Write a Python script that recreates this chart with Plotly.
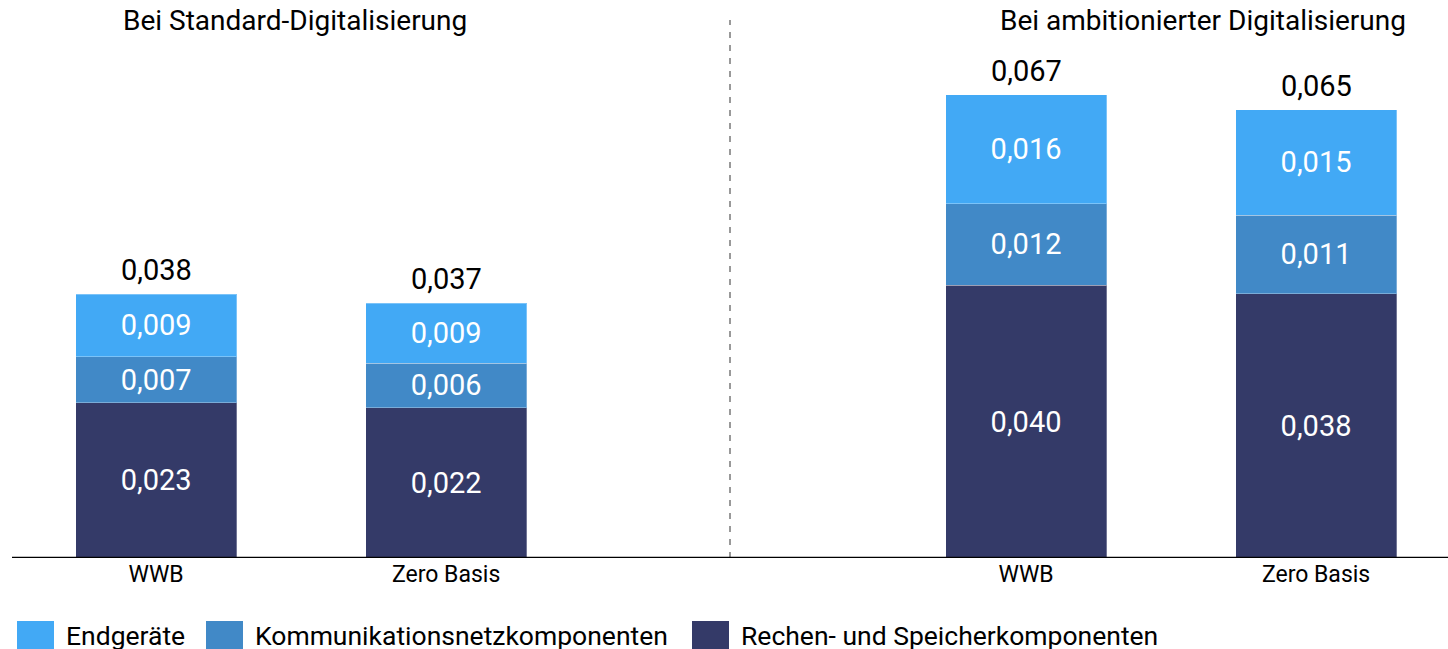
import plotly.graph_objects as go

# Bar slots on a numeric x axis (slot 2 is left empty for the divider)
categories = ["WWB", "Zero Basis", "WWB", "Zero Basis"]
slots = [0, 1, 3, 4]

rechen = [0.02252, 0.02177, 0.03954, 0.03833]
kommunikation = [0.00667, 0.00648, 0.01180, 0.01135]
endgeraete = [0.00903, 0.00870, 0.01580, 0.01532]

series_names = ["Rechen- und Speicherkomponenten", "Kommunikationsnetzkomponenten", "Endgeräte"]
series_values = [rechen, kommunikation, endgeraete]
series_colors = ["#343A68", "#4189C7", "#42A9F5"]

group_titles = ["Bei Standard-Digitalisierung", "Bei ambitionierter Digitalisierung"]
title_slots = [0.479, 3.61]

FONT = "Roboto"


def de(v):
    return f"{v:.3f}".replace(".", ",")


totals = [sum(t) for t in zip(*series_values)]

fig = go.Figure()
for name, vals, col in zip(series_names, series_values, series_colors):
    fig.add_trace(go.Bar(
        x=slots, y=vals, name=name, width=0.555,
        marker=dict(color=col, line=dict(color="rgba(255,255,255,0.3)", width=1)),
        text=[de(v) for v in vals], textposition="inside",
        insidetextanchor="middle", textangle=0,
        textfont=dict(color="white", size=29, family=FONT),
        showlegend=False, hoverinfo="skip",
    ))

# totals above each stack
for s, t in zip(slots, totals):
    fig.add_annotation(x=s, y=t, text=de(t), showarrow=False, yanchor="bottom",
                       yshift=5, font=dict(size=29, color="black", family=FONT))

# plot area in pixels
px_w, px_l = 1436, 12
plot_top, plot_bot = 20, 558
ph = plot_bot - plot_top


def xp(px):
    return (px - px_l) / px_w


def yp(py):
    return (plot_bot - py) / ph


# group headings
for xc, title in zip(title_slots, group_titles):
    fig.add_annotation(x=xc, y=yp(21), yref="paper", text=title, showarrow=False,
                       yanchor="middle", font=dict(size=28, color="black", family=FONT))

# dashed divider between the two scenarios
fig.add_shape(type="line", x0=1.979, x1=1.979, y0=0, y1=1.0, yref="paper",
              line=dict(color="#999999", width=2, dash="6px,7px"))

# legend row at the bottom
legend_items = [("Endgeräte", "#42A9F5", 17), ("Kommunikationsnetzkomponenten", "#4189C7", 206),
                ("Rechen- und Speicherkomponenten", "#343A68", 692)]
for label, col, x0 in legend_items:
    fig.add_shape(type="rect", xref="paper", yref="paper",
                  x0=xp(x0), x1=xp(x0 + 37), y0=yp(621), y1=yp(658),
                  fillcolor=col, line=dict(width=0))
    fig.add_annotation(xref="paper", yref="paper", x=xp(x0 + 47), y=yp(635),
                       text=label, showarrow=False, xanchor="left", yanchor="middle",
                       font=dict(size=26.5, color="black", family=FONT))

fig.update_layout(
    barmode="stack",
    width=1448, height=649,
    margin=dict(l=px_l, r=0, t=plot_top, b=649 - plot_bot),
    plot_bgcolor="white", paper_bgcolor="white",
    font=dict(family=FONT),
    xaxis=dict(range=[-0.497, 4.455], tickvals=slots, ticktext=categories,
               showgrid=False, zeroline=False, showline=False,
               tickfont=dict(size=23, color="black", family=FONT), ticks=""),
    yaxis=dict(range=[0, ph / 6900], visible=False),
)
fig.add_shape(type="line", xref="paper", yref="y", x0=0, x1=1, y0=0, y1=0,
              line=dict(color="black", width=2.5))

fig.write_html("out.html")
